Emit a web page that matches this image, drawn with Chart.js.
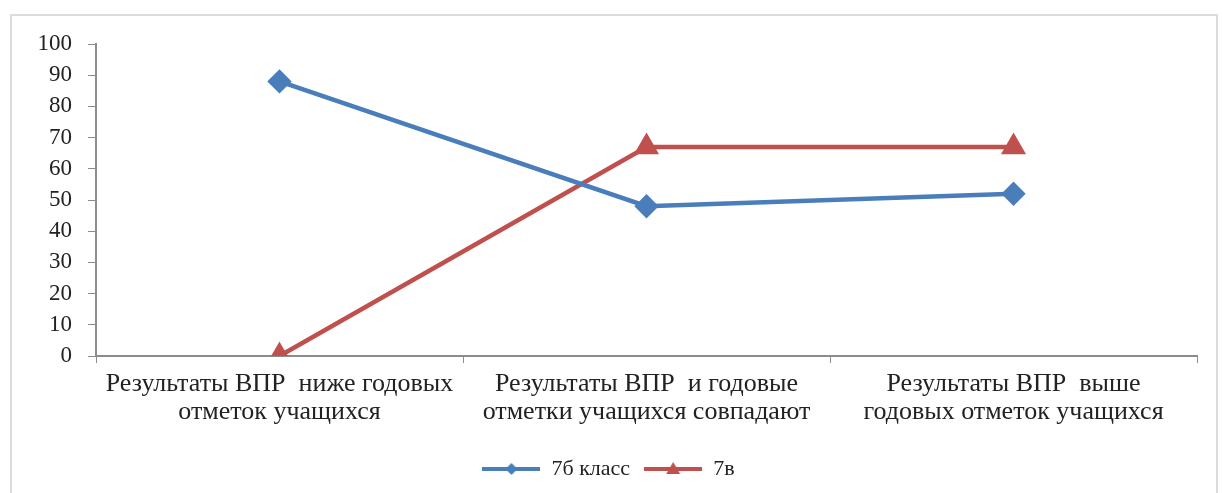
<!DOCTYPE html>
<html>
<head>
<meta charset="utf-8">
<script src="https://cdn.jsdelivr.net/npm/chart.js@4/dist/chart.umd.min.js"></script>
<style>
  html, body { margin: 0; padding: 0; background: #fff; }
  #wrap { position: relative; width: 1222px; height: 493px; overflow: hidden; }
  #frame {
    position: absolute; left: 10px; top: 14px; width: 1208px; height: 500px;
    border: 2px solid #dcdcdc; box-sizing: border-box;
  }
  canvas { position: absolute; left: 0; top: 0; }
</style>
</head>
<body>
<div id="wrap">
  <div id="frame"></div>
  <canvas id="chart" width="1222" height="493"></canvas>
</div>
<script>
// categories (x axis), two lines each
const categories = [
  ["Результаты ВПР  ниже годовых", "отметок учащихся"],
  ["Результаты ВПР  и годовые", "отметки учащихся совпадают"],
  ["Результаты ВПР  выше", "годовых отметок учащихся"],
];

// series
const seriesNames = ["7б класс", "7в"];
const values7b = [88, 48, 52];
const values7v = [0, 67, 67];

const yTicks = { min: 0, max: 100, step: 10 };

const BLUE = "#4a7ebb";
const RED = "#c0504d";
const FONT = "'Liberation Serif', 'Times New Roman', serif";

// little picture for the legend: line with marker in the middle
function legendIcon(color, style) {
  const c = document.createElement("canvas");
  c.width = 58;
  c.height = 16;
  const ctx = c.getContext("2d");
  ctx.strokeStyle = color;
  ctx.fillStyle = color;
  ctx.lineWidth = 4;
  ctx.beginPath();
  ctx.moveTo(0, 8);
  ctx.lineTo(58, 8);
  ctx.stroke();
  ctx.beginPath();
  if (style === "rectRot") {
    ctx.moveTo(29, 2); ctx.lineTo(35, 8); ctx.lineTo(29, 14); ctx.lineTo(23, 8);
  } else {
    ctx.moveTo(29, 1); ctx.lineTo(36, 13); ctx.lineTo(22, 13);
  }
  ctx.closePath();
  ctx.fill();
  return c;
}

const icons = [legendIcon(BLUE, "rectRot"), legendIcon(RED, "triangle")];

new Chart(document.getElementById("chart"), {
  type: "line",
  data: {
    labels: categories,
    datasets: [
      {
        label: seriesNames[0],
        data: values7b,
        borderColor: BLUE,
        backgroundColor: BLUE,
        borderWidth: 4.5,
        pointStyle: "rectRot",
        pointRadius: 9,
        pointHoverRadius: 9,
        tension: 0,
      },
      {
        label: seriesNames[1],
        data: values7v,
        borderColor: RED,
        backgroundColor: RED,
        borderWidth: 4.5,
        pointStyle: "triangle",
        pointRadius: 10,
        pointHoverRadius: 10,
        tension: 0,
      },
    ],
  },
  options: {
    responsive: false,
    animation: false,
    layout: { padding: { left: 20, right: 25, top: 44, bottom: 3 } },
    plugins: {
      tooltip: { enabled: false },
      legend: {
        position: "bottom",
        labels: {
          usePointStyle: true,
          pointStyleWidth: 58,
          boxHeight: 16,
          padding: 14,
          color: "#222",
          font: { family: FONT, size: 22 },
          generateLabels(chart) {
            return chart.data.datasets.map((ds, i) => ({
              text: ds.label,
              fillStyle: ds.borderColor,
              strokeStyle: ds.borderColor,
              lineWidth: 0,
              pointStyle: icons[i],
              datasetIndex: i,
              hidden: false,
              fontColor: "#222",
            }));
          },
        },
      },
    },
    scales: {
      x: {
        offset: true,
        grid: {
          offset: true,
          drawOnChartArea: false,
          drawTicks: true,
          tickLength: 7,
          color: "#8c8c8c",
        },
        border: { color: "#8c8c8c", width: 2 },
        ticks: {
          color: "#222",
          maxRotation: 0,
          autoSkip: false,
          padding: 8,
          font: { family: FONT, size: 26, lineHeight: 1.05 },
        },
        afterFit(scale) { scale.height = 88; },
      },
      y: {
        min: yTicks.min,
        max: yTicks.max,
        grid: {
          drawOnChartArea: false,
          drawTicks: true,
          tickLength: 8,
          color: "#8c8c8c",
        },
        border: { color: "#8c8c8c", width: 2 },
        ticks: {
          stepSize: yTicks.step,
          autoSkip: false,
          color: "#222",
          padding: 16,
          font: { family: FONT, size: 23 },
        },
        afterFit(scale) { scale.width = 76; },
      },
    },
  },
});
</script>
</body>
</html>
